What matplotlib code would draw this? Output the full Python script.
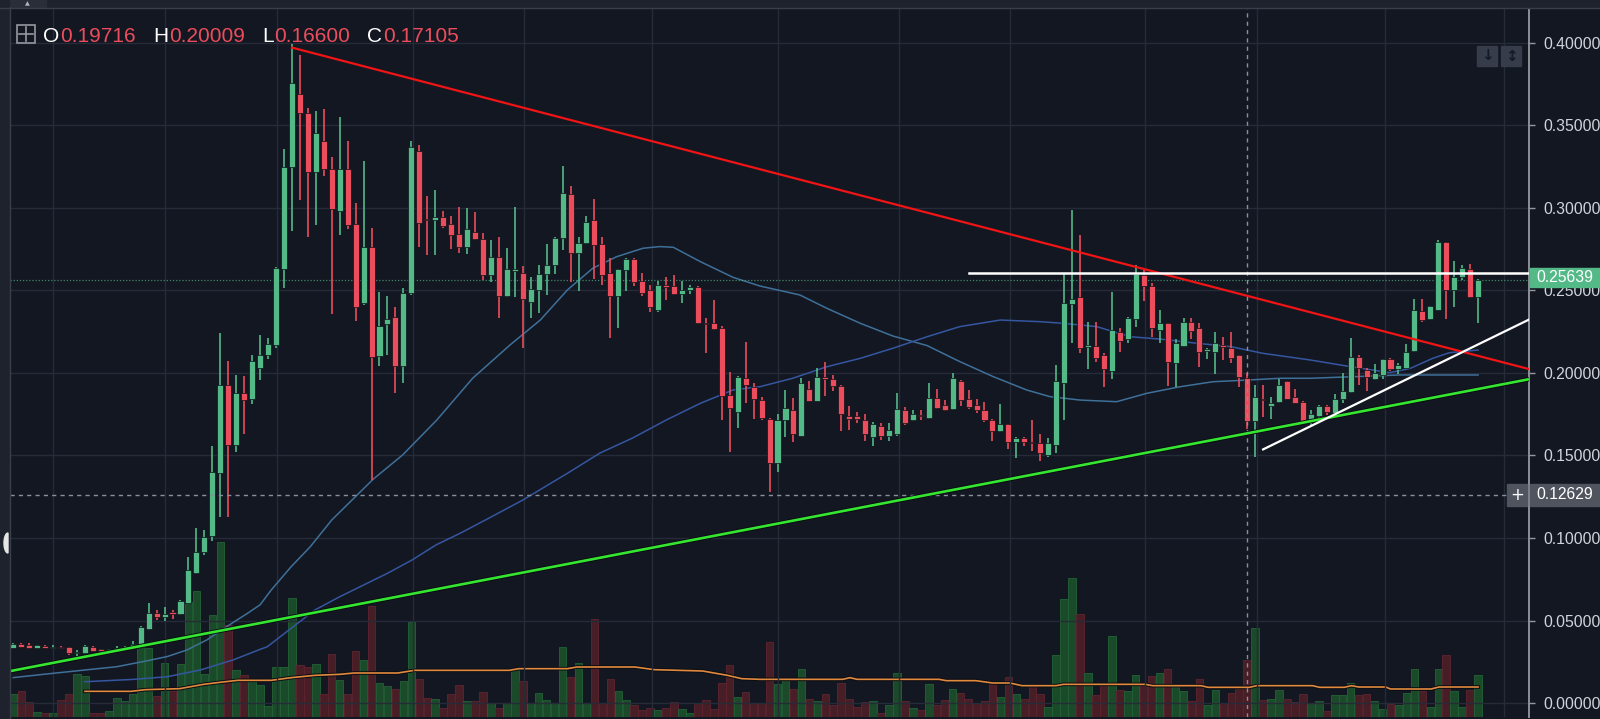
import numpy as np
import matplotlib
matplotlib.use('Agg')
import matplotlib.pyplot as plt
from matplotlib.patches import Rectangle, Polygon

# ---- candles (one per bar) ----
opens = [.0333, .0358, .0350, .0333, .0345, .0333, .0341, .0337, .0303, .0301,
         .0337, .0325, .0313, .0317, .0325, .0333, .0358, .0451, .0543, .0520,
         .0549, .0537, .0608, .0790, .0915, .1012, .1392, .1927, .1564, .1876,
         .1842, .2032, .2109, .2170, .2630, .3251, .3689, .3578, .3220, .3406,
         .3236, .2982, .3236, .2903, .2422, .2762, .2101, .2297, .2337, .2042,
         .2483, .3345, .2935, .2925, .2945, .2903, .2842, .2762, .2857, .2814,
         .2594, .2705, .2467, .2618, .2604, .2432, .2503, .2600, .2653, .2816,
         .3083, .2725, .2790, .2927, .2782, .2604, .2469, .2622, .2689, .2560,
         .2503, .2382, .2533, .2525, .2477, .2505, .2519, .2305, .2301, .2271,
         .1867, .1766, .1970, .1913, .1837, .1719, .1456, .1715, .1776, .1620,
         .1903, .1832, .1978, .1962, .1921, .1739, .1739, .1715, .1614, .1679,
         .1618, .1630, .1776, .1715, .1748, .1729, .1850, .1806, .1782, .1953,
         .1842, .1806, .1776, .1715, .1651, .1689, .1580, .1604, .1584, .1574,
         .1503, .1564, .1941, .2418, .2459, .2160, .2166, .2109, .2014, .2251,
         .2204, .2325, .2594, .2527, .2261, .2301, .2059, .2164, .2311, .2271,
         .2133, .2125, .2170, .2150, .2109, .19716, .1711, .1840, .1802, .1822,
         .1953, .1853, .1822, .1705, .1741, .1802, .1756, .1842, .1887, .2099,
         .2018, .1962, .1988, .2085, .2022, .2028, .2135, .2376, .2327, .2382,
         .2796, .2503, .2580, .2628, .2459]
highs = [.0362, .0362, .0366, .0354, .0349, .0353, .0345, .0342, .0321, .0350,
         .0345, .0330, .0328, .0345, .0345, .0374, .0465, .0604, .0564, .0580,
         .0563, .0626, .0887, .1059, .1048, .1560, .2245, .2073, .1988, .1980,
         .2110, .2230, .2212, .2640, .3356, .3994, .3927, .3604, .3590, .3600,
         .3311, .3550, .3406, .3028, .3287, .2877, .2493, .2467, .2402, .2513,
         .3406, .3382, .3073, .3109, .2984, .2952, .3008, .2998, .2978, .2851,
         .2808, .2826, .2756, .3008, .2648, .2580, .2653, .2782, .2822, .3255,
         .3133, .2822, .2952, .3053, .2822, .2695, .2632, .2699, .2695, .2604,
         .2533, .2560, .2580, .2594, .2560, .2533, .2525, .2331, .2442, .2285,
         .2008, .1984, .2190, .1937, .1853, .1730, .1750, .1897, .1850, .1968,
         .1950, .2028, .2069, .1990, .1925, .1800, .1765, .1750, .1705, .1695,
         .1699, .1877, .1796, .1776, .1776, .1937, .1903, .1836, .1998, .1957,
         .1897, .1842, .1826, .1720, .1810, .1692, .1610, .1614, .1715, .1630,
         .1604, .2048, .2604, .2988, .2836, .2311, .2311, .2119, .2489, .2271,
         .2341, .2655, .2624, .2547, .2382, .2301, .2204, .2331, .2331, .2301,
         .2150, .2251, .2216, .2251, .2109, .20009, .1927, .1927, .1853, .1962,
         .1953, .1901, .1832, .1776, .1806, .1806, .1873, .2002, .2210, .2109,
         .2028, .2055, .2085, .2089, .2063, .2174, .2447, .2447, .2406, .2806,
         .2796, .2681, .2655, .2661, .2568]
lows = [.0331, .0339, .0331, .0331, .0331, .0331, .0331, .0289, .0273, .0299,
        .0315, .0315, .0311, .0315, .0323, .0331, .0355, .0445, .0503, .0500,
        .0507, .0535, .0600, .0780, .0900, .0982, .1125, .1125, .1520, .1631,
        .1810, .1958, .2083, .2150, .2513, .2863, .3048, .2826, .2897, .3194,
        .2358, .2836, .2871, .2317, .2412, .1352, .2042, .2109, .1881, .1937,
        .2473, .2766, .2715, .2715, .2880, .2750, .2725, .2719, .2808, .2564,
        .2553, .2331, .2460, .2459, .2150, .2331, .2366, .2473, .2598, .2745,
        .2554, .2499, .2783, .2568, .2533, .2210, .2271, .2499, .2530, .2469,
        .2372, .2372, .2442, .2473, .2422, .2477, .2295, .2123, .2260, .1715,
        .1519, .1665, .1820, .1719, .1715, .1281, .1400, .1614, .1580, .1620,
        .1830, .1830, .1861, .1893, .1651, .1657, .1699, .1588, .1557, .1594,
        .1588, .1618, .1683, .1711, .1715, .1723, .1780, .1772, .1776, .1803,
        .1780, .1756, .1705, .1590, .1645, .1537, .1487, .1560, .1530, .1469,
        .1493, .1517, .1715, .2180, .2119, .2022, .2069, .1917, .1962, .2125,
        .2180, .2281, .2436, .2216, .2180, .1921, .1913, .2160, .2204, .2034,
        .2083, .1992, .2079, .2059, .1917, .16600, .1493, .1735, .1719, .1820,
        .1842, .1816, .1711, .1685, .1715, .1745, .1756, .1820, .1877, .1927,
        .1893, .1958, .1962, .2012, .1994, .2022, .2125, .2311, .2321, .2382,
        .2327, .2402, .2564, .2453, .2301]
closes = [.0358, .0341, .0333, .0350, .0333, .0341, .0333, .0305, .0307, .0345,
          .0317, .0317, .0325, .0333, .0341, .0358, .0459, .0543, .0520, .0540,
          .0537, .0618, .0806, .0917, .1008, .1398, .1927, .1564, .1876, .1835,
          .2073, .2109, .2176, .2634, .3251, .3756, .3574, .3220, .3457, .3236,
          .2992, .3236, .2897, .2402, .2762, .2099, .2285, .2329, .2042, .2483,
          .3372, .2907, .2925, .2945, .2890, .2836, .2762, .2875, .2810, .2594,
          .2705, .2467, .2628, .2628, .2448, .2509, .2600, .2653, .2816, .3093,
          .2725, .2790, .2917, .2776, .2594, .2469, .2628, .2689, .2554, .2487,
          .2402, .2533, .2519, .2477, .2505, .2519, .2301, .2297, .2265, .1861,
          .1786, .1974, .1927, .1841, .1725, .1456, .1715, .1790, .1630, .1937,
          .1832, .1978, .1962, .1921, .1750, .1719, .1723, .1630, .1689, .1618,
          .1655, .1782, .1699, .1750, .1740, .1850, .1790, .1776, .1968, .1836,
          .1796, .1776, .1715, .1651, .1689, .1580, .1604, .1580, .1574, .1513,
          .1574, .1952, .2422, .2448, .2154, .2166, .2093, .2022, .2261, .2194,
          .2331, .2600, .2529, .2271, .2301, .2069, .2184, .2311, .2257, .2125,
          .2145, .2184, .2156, .2093, .1974, .17105, .1853, .1836, .1816, .1927,
          .1842, .1820, .1711, .1752, .1802, .1762, .1842, .1893, .2099, .2028,
          .1974, .1998, .2085, .2022, .2048, .2125, .2382, .2321, .2406, .2796,
          .2503, .2584, .2638, .2463, .25639]
volumes = [7.0, 7.7, 4.5, 1.5, 1.2, 1.2, 5.2, 7.0, 12.8, 12.2,
           1.2, 1.2, 1.8, 5.7, 4.8, 7.0, 21.0, 20.8, 6.2, 16.2,
           7.8, 15.8, 34.5, 37.8, 12.8, 30.5, 52.5, 27.5, 14.2, 12.5,
           10.8, 9.5, 3.2, 15.0, 15.0, 35.7, 15.5, 15.0, 15.8, 7.0,
           18.8, 11.0, 7.0, 19.7, 17.0, 33.2, 10.3, 9.3, 8.5, 10.7,
           28.5, 11.5, 5.7, 5.5, 2.8, 6.8, 9.5, 4.7, 4.7, 7.5,
           4.2, 2.8, 4.2, 14.2, 10.7, 4.2, 7.3, 5.2, 4.2, 21.0,
           12.0, 16.2, 4.2, 29.3, 4.2, 11.5, 7.7, 5.2, 3.5, 2.0,
           2.7, 2.2, 2.8, 4.5, 2.3, 1.2, 4.2, 5.0, 2.3, 10.3,
           15.5, 6.0, 7.5, 4.2, 4.2, 22.5, 9.8, 11.2, 8.5, 14.5,
           5.5, 4.7, 6.8, 3.5, 10.2, 5.5, 3.0, 4.5, 4.7, 1.3,
           3.5, 13.3, 4.7, 2.7, 2.2, 9.8, 3.5, 5.2, 8.5, 7.3,
           5.5, 4.2, 4.7, 10.0, 6.0, 12.0, 6.8, 5.3, 9.3, 6.8,
           3.0, 18.7, 35.5, 41.8, 31.0, 13.2, 6.5, 9.7, 24.2, 8.2,
           7.7, 12.5, 10.2, 12.3, 13.2, 14.5, 9.2, 7.7, 4.7, 11.5,
           3.5, 8.2, 4.2, 7.3, 9.2, 17.0, 26.8, 5.2, 5.3, 8.2,
           5.3, 4.5, 6.8, 4.2, 4.8, 1.8, 6.5, 6.5, 10.3, 6.5,
           6.8, 4.7, 2.5, 3.8, 3.5, 7.3, 14.5, 7.7, 3.0, 14.5,
           18.7, 7.7, 3.0, 8.0, 12.5]

# ---- moving averages, read as (bar, value) points ----
ma_fast_bar = [0, 5, 9, 13, 16.3, 19.3, 21.8, 24.3, 26.8, 29.4, 31, 32.4, 34.9, 37.3,
               40, 45.2, 48.9, 53.2, 57.7, 62.4, 66.2, 69.6, 72.8, 75.8, 79.1, 81.2,
               82.9, 86.3, 90.4, 93.8, 98.8, 102.2, 106.4, 110.5, 114.8, 118.9, 123.1,
               127.3, 130.2, 134, 138.6, 142.4, 146.6, 150.7, 155, 159.1, 162.9, 174.2, 184]
ma_fast_val = [.0154, .0180, .0200, .0220, .0251, .0281, .0321, .0382, .0463, .0543, .0595,
               .0685, .0826, .0947, .1109, .1356, .1503, .1715, .1968, .2170, .2321, .2503,
               .2635, .2705, .2756, .2766, .2762, .2675, .2580, .2527, .2473, .2392, .2301,
               .2224, .2166, .2069, .1978, .1897, .1857, .1836, .1826, .1877, .1917, .1947,
               .1957, .1968, .1968, .1988, .1988]
ma_slow_bar = [9, 15, 19.3, 23.5, 27.6, 31, 31.9, 37.9, 41, 47, 50.1, 53.1, 56.1, 59.3,
               64, 69.6, 73.7, 77.8, 82.1, 86.3, 90.4, 93.8, 97.9, 102.2, 106.4, 110.5,
               114.8, 118.9, 124, 129, 131.9, 136.1, 140.3, 144.4, 148.7, 152.9, 157,
               162.9, 167.9, 172.9, 175.5, 178.3, 180.4, 184]
ma_slow_val = [.0129, .0143, .0159, .0200, .0261, .0325, .0341, .0564, .0644, .0786, .0867,
               .0958, .1028, .1109, .1230, .1392, .1515, .1606, .1717, .1816, .1897, .1917,
               .1968, .2038, .2089, .2150, .2220, .2281, .2321, .2311, .2301, .2281, .2220,
               .2204, .2180, .2160, .2119, .2079, .2039, .2002, .2028, .2089, .2123, .2139]
vol_ma_bar = [9, 14.8, 16.6, 20.9, 23.9, 26.3, 28.2, 32.4, 34.9, 37.9, 41, 42.8, 48.3, 50.4,
              62.3, 63.5, 69.6, 70.8, 78.1, 80.5, 86.6, 89.7, 91.5, 93.8, 104.2, 105.1, 106,
              116.3, 117.2, 120.9, 123, 125.2, 126.7, 131, 131.9, 142.2, 143.1, 149.2, 150.1,
              155.3, 156.2, 163.2, 164.1, 167.2, 168.1, 169, 172.4, 173, 178.1, 179.1, 184]
vol_ma_val = [7.7, 7.7, 8.2, 8.5, 9.8, 10.5, 11.0, 11.0, 11.8, 12.5, 12.8, 13.2, 13.2, 14.0,
              14.0, 14.5, 14.5, 15.0, 15.0, 14.2, 13.8, 12.5, 11.5, 11.3, 11.3, 11.8, 11.3,
              11.3, 10.9, 10.9, 10.2, 10.2, 9.4, 9.4, 9.8, 9.8, 9.4, 9.4, 8.9,
              8.9, 9.4, 9.4, 8.9, 8.9, 9.4, 9.0, 9.0, 8.4, 8.4, 9.0, 9.0]

# ---- drawings / markers on the chart ----
red_line = [(35, 0.3972), (184, 0.2104)]
green_line = [(0, 0.0197), (184, 0.1903)]
white_diag = [(157, 0.1537), (184, 0.2173)]
white_level = (120, 0.2607)
month_bars = [5.0, 19.1, 33.1, 50.2, 64.1, 80.2, 96.1, 111.2, 125.2, 142.2, 156.2, 172.3, 187.2]
price_ticks = [0.0, 0.05, 0.10, 0.15, 0.20, 0.25, 0.30, 0.35, 0.40]
ohlc_header = [('O', '0.19716'), ('H', '0.20009'), ('L', '0.16600'), ('C', '0.17105')]
last_price = 0.25639
cross_price = 0.12629
cross_bar = 155

BG = '#131722'
UP = '#53b987'
DOWN = '#eb4d5c'
GRID = '#262b38'
TXT = '#d1d4dc'
W, H = 1600, 719

fig = plt.figure(figsize=(W / 100, H / 100), dpi=100, facecolor=BG)
rect = [10 / W, (H - 717) / H, (1529 - 10) / W, (717 - 8) / H]
ax_v = fig.add_axes(rect, zorder=0)
ax = fig.add_axes(rect, zorder=1, sharex=ax_v)
ax_v.set_facecolor(BG)
ax.set_facecolor('none')

xmin, xmax = -0.415, 190.4
ax.set_xlim(xmin, xmax)
ax.set_ylim(-0.00848, 0.4212)
ax_v.set_ylim(0, 212.7)

for a in (ax, ax_v):
    for sp in a.spines.values():
        sp.set_visible(False)
    a.set_xticks([])
ax_v.set_yticks([])

# grid
for p in price_ticks:
    ax.axhline(p, color=GRID, lw=1, zorder=0.5)
for b in month_bars:
    ax.axvline(b, color=GRID, lw=1, zorder=0.5)

# right price scale
ax.yaxis.tick_right()
ax.set_yticks(price_ticks)
ax.set_yticklabels(['%.5f' % p for p in price_ticks])
ax.tick_params(axis='y', length=4, width=1, pad=6, colors='#9598a1',
               labelcolor=TXT, labelsize=11.3)
for t in ax.get_yticklabels():
    t.set_fontfamily('Liberation Sans')
ax.spines['right'].set_visible(True)
ax.spines['right'].set_color('#8d9099')
ax.spines['right'].set_linewidth(1.4)

# volume
o = np.array(opens); c = np.array(closes)
hi = np.array(highs); lo = np.array(lows)
xs = np.arange(len(o))
up = c >= o
vface = np.where(up, '#1b4a2b', '#471d26')
vedge = np.where(up, '#226336', '#5e2430')
ax_v.bar(xs, volumes, width=0.94, color=vface, edgecolor=vedge, linewidth=0.6, zorder=2)
ax_v.plot(vol_ma_bar, vol_ma_val, color='#0b0d12', lw=2.6, zorder=3)
ax_v.plot(vol_ma_bar, vol_ma_val, color='#e0893f', lw=1.2, zorder=4)

# moving averages
ax.plot(ma_fast_bar, ma_fast_val, color='#3f7099', lw=1.1, zorder=2)
ax.plot(ma_slow_bar, ma_slow_val, color='#3556a0', lw=1.1, zorder=2)

# candles
ccol = np.where(up, UP, DOWN)
ax.vlines(xs, lo, hi, colors=ccol, lw=1.2, zorder=3)
body = np.maximum(np.abs(c - o), 0.0008)
ax.bar(xs, body, bottom=np.minimum(o, c), width=0.76, color=ccol,
       edgecolor='#0e1118', linewidth=0.5, zorder=4)

# last price line
ax.axhline(last_price, color=UP, lw=0.9, ls=(0, (1, 1.5)), alpha=0.7, zorder=2)

# crosshair
ax.axhline(cross_price, color='#8a8f9b', lw=1, ls=(0, (3, 3)), zorder=5)
ax.axvline(cross_bar, color='#8a8f9b', lw=1, ls=(0, (3, 3)), zorder=5)

# trend lines
def ray(p0, p1, x_from, x_to):
    k = (p1[1] - p0[1]) / (p1[0] - p0[0])
    xx = np.array([x_from, x_to])
    return xx, p0[1] + k * (xx - p0[0])

xx, yy = ray(*green_line, xmin, xmax)
ax.plot(xx, yy, color='#0a0c10', lw=3.2, zorder=6, solid_capstyle='butt')
ax.plot(xx, yy, color='#34e632', lw=1.9, zorder=6, solid_capstyle='butt')
xx, yy = ray(*red_line, red_line[0][0], xmax)
ax.plot(xx, yy, color='#f01414', lw=1.6, zorder=6)
xx, yy = ray(*white_diag, white_diag[0][0], xmax)
ax.plot(xx, yy, color='white', lw=1.6, zorder=6)
ax.plot([white_level[0], xmax], [white_level[1]] * 2, color='white', lw=1.8, zorder=6)

# price labels on the scale
def px_y(price):
    lo_, hi_ = ax.get_ylim()
    return rect[1] + rect[3] * (price - lo_) / (hi_ - lo_)

yl = px_y(last_price) + 2.5 / H
fig.add_artist(Rectangle((1530 / W, yl - 9.5 / H), 70 / W, 19 / H,
                         transform=fig.transFigure, color=UP, zorder=10))
fig.text(1536 / W, yl, '%.5f' % last_price, color='white', fontsize=11.3,
         family='Liberation Sans', va='center', ha='left', zorder=11)
yc = px_y(cross_price)
fig.add_artist(Rectangle((1530 / W, yc - 11 / H), 70 / W, 22 / H,
                         transform=fig.transFigure, color='#50545f', zorder=10))
fig.text(1536 / W, yc, '%.5f' % cross_price, color='white', fontsize=11.3,
         family='Liberation Sans', va='center', ha='left', zorder=11)
fig.add_artist(Rectangle((1507 / W, yc - 11 / H), 20 / W, 22 / H,
                         transform=fig.transFigure, color='#50545f', zorder=10))
fig.text(1517 / W, yc, '+', color='white', fontsize=12, va='center', ha='center', zorder=11)

# top-right buttons
for bx, glyph in ((1477, '↓'), (1501, '↕')):
    fig.add_artist(Rectangle((bx / W, 1 - 66 / H), 20 / W, 20 / H,
                             transform=fig.transFigure, color='#363c4a', zorder=10))
    fig.text((bx + 10) / W, 1 - 56 / H, glyph, color='#161a24', fontsize=11,
             family='DejaVu Sans', va='center', ha='center', weight='bold', zorder=11)

# frame strips
fig.add_artist(Rectangle((0, 1 - 7 / H), 1, 7 / H, transform=fig.transFigure,
                         color='#1e222d', zorder=10))
fig.add_artist(Rectangle((10 / W, 1 - 7 / H), 36 / W, 7 / H, transform=fig.transFigure,
                         color='#2a2e39', zorder=10))
fig.text(27 / W, 1 - 3.5 / H, '▲', color='#b2b5be', fontsize=4.5, family='DejaVu Sans',
         va='center', ha='center', zorder=11)
fig.add_artist(Rectangle((0, 0), 9 / W, 1, transform=fig.transFigure,
                         color='#1e222d', zorder=10))
fig.add_artist(plt.Line2D([9.5 / W] * 2, [0, 1 - 7 / H], transform=fig.transFigure,
                          color='#3a3e4a', lw=1, zorder=11))
fig.add_artist(plt.Line2D([0, 1], [1 - 7.5 / H] * 2, transform=fig.transFigure,
                          color='#3a3e4a', lw=1, zorder=11))
th = np.linspace(np.pi / 2, 3 * np.pi / 2, 20)
half = np.column_stack([(8 + 4 * np.cos(th)) / W, 1 - (543 - 10 * np.sin(th)) / H])
fig.add_artist(Polygon(half, closed=True, transform=fig.transFigure,
                       color='#e6e6e6', zorder=11))

# header
fig.add_artist(Rectangle((17 / W, 1 - 43 / H), 18 / W, 18 / H, transform=fig.transFigure,
                         fill=False, edgecolor='#9598a1', lw=1.2, zorder=10))
fig.add_artist(plt.Line2D([26 / W] * 2, [1 - 41 / H, 1 - 27 / H], transform=fig.transFigure,
                          color='#9598a1', lw=1.2, zorder=10))
fig.add_artist(plt.Line2D([19 / W, 33 / W], [1 - 34 / H] * 2, transform=fig.transFigure,
                          color='#9598a1', lw=1.2, zorder=10))

fig.canvas.draw()
r = fig.canvas.get_renderer()
xpos = 43
ytxt = 1 - 36 / H
for key, val in ohlc_header:
    t1 = fig.text(xpos / W, ytxt, key, color='white', fontsize=15,
                  family='Liberation Sans', va='center', ha='left', zorder=11)
    xpos += t1.get_window_extent(r).width + 1
    t2 = fig.text(xpos / W, ytxt, val, color=DOWN, fontsize=15,
                  family='Liberation Sans', va='center', ha='left', zorder=11)
    xpos += t2.get_window_extent(r).width + 17

fig.savefig('out.png', dpi=100, facecolor=BG)
